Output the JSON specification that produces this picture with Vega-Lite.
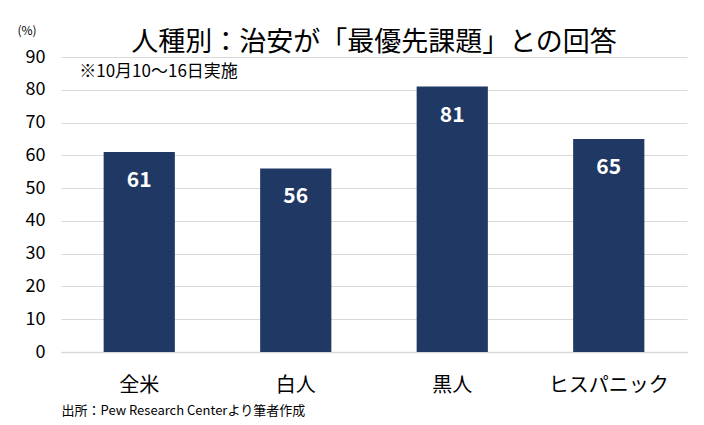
{
  "$schema": "https://vega.github.io/schema/vega-lite/v6.json",
  "width": 626,
  "height": 295,
  "autosize": {"type": "none"},
  "padding": {"left": 61, "top": 57, "right": 17, "bottom": 73},
  "background": "white",
  "config": {
    "font": "Noto Sans CJK JP",
    "view": {"stroke": null},
    "axisY": {
      "tickCount": 10,
      "labelOverlap": false,
      "titleAngle": 0,
      "titleFontSize": 12,
      "titleFontWeight": "normal",
      "titleColor": "#000000",
      "titleAlign": "left",
      "titleBaseline": "middle",
      "titleX": -44,
      "titleY": -27,
      "labelFontSize": 18,
      "labelColor": "#000000",
      "labelPadding": 16,
      "ticks": false,
      "domain": false,
      "gridColor": "#d9d9d9",
      "gridWidth": 1.2
    },
    "axisX": {
      "titleFontSize": 13,
      "titleFontWeight": "normal",
      "titleColor": "#000000",
      "titleAnchor": "start",
      "titleAlign": "left",
      "titleBaseline": "middle",
      "titleX": 0,
      "titleY": 58,
      "labelAngle": 0,
      "labelFontSize": 20,
      "labelColor": "#000000",
      "labelPadding": 23,
      "ticks": false,
      "grid": false,
      "domainColor": "#d9d9d9",
      "domainWidth": 1.5
    }
  },
  "title": {
    "text": "人種別：治安が「最優先課題」との回答",
    "fontSize": 27,
    "fontWeight": "normal",
    "color": "#000000",
    "anchor": "middle",
    "offset": 2,
    "dy": 35,
    "font": "Noto Sans CJK JP"
  },
  "layer": [
    {
      "data": {
        "values": [
          {"group": "全米", "value": 61},
          {"group": "白人", "value": 56},
          {"group": "黒人", "value": 81},
          {"group": "ヒスパニック", "value": 65}
        ]
      },
      "layer": [
        {
          "mark": {"type": "bar", "color": "#1f3864"},
          "encoding": {
            "x": {
              "field": "group",
              "type": "nominal",
              "sort": null,
              "scale": {"paddingInner": 0.545, "paddingOuter": 0.2725},
              "axis": {"title": "出所：Pew Research Centerより筆者作成"}
            },
            "y": {
              "field": "value",
              "type": "quantitative",
              "scale": {"domain": [0, 90], "nice": false},
              "axis": {"title": "(%)"}
            }
          }
        },
        {
          "mark": {"type": "text", "color": "white", "fontWeight": "bold", "fontSize": 21, "baseline": "middle", "dy": 29},
          "encoding": {
            "x": {"field": "group", "type": "nominal", "sort": null},
            "y": {"field": "value", "type": "quantitative"},
            "text": {"field": "value", "type": "quantitative"}
          }
        }
      ]
    },
    {
      "data": {"values": [{"note": "※10月10～16日実施"}]},
      "mark": {"type": "text", "align": "left", "baseline": "middle", "fontSize": 17, "color": "#000000", "dx": -60},
      "encoding": {
        "x": {"datum": "全米", "type": "nominal"},
        "y": {"datum": 85.3, "type": "quantitative"},
        "text": {"field": "note", "type": "nominal"}
      }
    }
  ]
}
